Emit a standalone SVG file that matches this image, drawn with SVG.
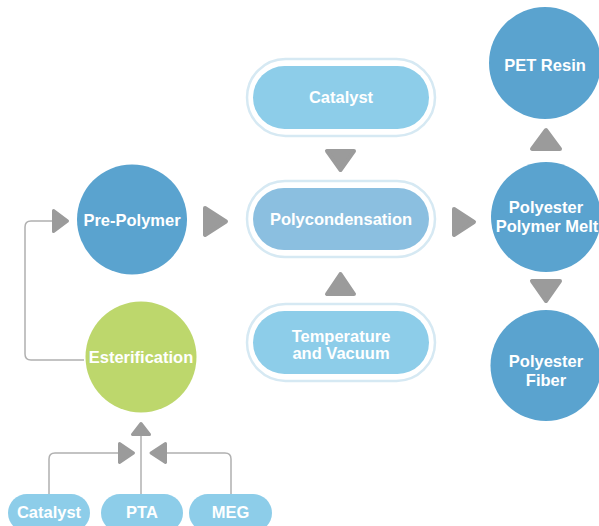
<svg xmlns="http://www.w3.org/2000/svg" width="599" height="526" viewBox="0 0 599 526">
  <style>
    .lbl { font-family: "Liberation Sans", Arial, sans-serif; font-weight: bold; font-size: 16.5px; fill: #ffffff; text-anchor: middle; }
    .dark { fill: #5aa3cf; }
    .green { fill: #bdd76c; }
    .pill { fill: #8dcde9; }
    .pill-main { fill: #8bbfe0; }
    .ring { fill: none; stroke: #d6e9f3; stroke-width: 2.5; }
    .tri { fill: #9b9b9b; stroke: #9b9b9b; stroke-width: 4; stroke-linejoin: round; }
    .tri-s { fill: #9b9b9b; stroke: #9b9b9b; stroke-width: 3; stroke-linejoin: round; }
    .wire { fill: none; stroke: #b0b0b0; stroke-width: 1.5; }
  </style>

  <!-- connectors -->
  <g id="connectors">
    <path class="wire" d="M84,360 H31 Q25,360 25,354 V227 Q25,221 31,221 H55"/>
    <polygon class="tri-s" points="53.5,210.5 67.5,221 53.5,231.5"/>

    <path class="wire" d="M49,494 V459 Q49,453 55,453 H121"/>
    <path class="wire" d="M141,494 V433"/>
    <path class="wire" d="M231,494 V459 Q231,453 225,453 H163"/>
    <polygon class="tri-s" points="119.5,443.5 133.5,453 119.5,462.5"/>
    <polygon class="tri-s" points="132.5,434.5 149.5,434.5 141,423.5"/>
    <polygon class="tri-s" points="165.5,443.5 151,453 165.5,462.5"/>

    <polygon class="tri" points="205,208 226,221.5 205,235"/>
    <polygon class="tri" points="327,151 354,151 340.5,170"/>
    <polygon class="tri" points="327,294 354,294 340.5,274"/>
    <polygon class="tri" points="454,209 474,222 454,235"/>
    <polygon class="tri" points="532,149 560,149 546,130"/>
    <polygon class="tri" points="532,281 560,281 546,301"/>
  </g>

  <g id="pre-polymer">
    <circle class="dark" cx="132" cy="219.5" r="55"/>
    <text class="lbl" x="132" y="225.5">Pre-Polymer</text>
  </g>

  <g id="esterification">
    <circle class="green" cx="141" cy="357" r="55.5"/>
    <text class="lbl" x="141" y="363">Esterification</text>
  </g>

  <g id="catalyst-top">
    <rect class="ring" x="247" y="59" width="188" height="77" rx="38.5"/>
    <rect class="pill" x="253" y="66" width="176" height="63" rx="31.5"/>
    <text class="lbl" x="341" y="103">Catalyst</text>
  </g>

  <g id="polycondensation">
    <rect class="ring" x="247" y="181" width="188" height="76" rx="38"/>
    <rect class="pill-main" x="253" y="188" width="176" height="62" rx="31"/>
    <text class="lbl" x="341" y="225">Polycondensation</text>
  </g>

  <g id="temperature-vacuum">
    <rect class="ring" x="247" y="304" width="188" height="77" rx="38.5"/>
    <rect class="pill" x="253" y="311" width="176" height="63" rx="31.5"/>
    <text class="lbl" x="341" y="342">Temperature</text>
    <text class="lbl" x="341" y="359">and Vacuum</text>
  </g>

  <g id="pet-resin">
    <circle class="dark" cx="545" cy="63" r="56"/>
    <text class="lbl" x="545" y="71">PET Resin</text>
  </g>

  <g id="polymer-melt">
    <circle class="dark" cx="546" cy="217" r="55"/>
    <text class="lbl" x="546" y="213">Polyester</text>
    <text class="lbl" x="547" y="232">Polymer Melt</text>
  </g>

  <g id="polyester-fiber">
    <circle class="dark" cx="546" cy="365.5" r="55.5"/>
    <text class="lbl" x="546" y="367">Polyester</text>
    <text class="lbl" x="546" y="386">Fiber</text>
  </g>

  <g id="catalyst-feed">
    <rect class="pill" x="8" y="494" width="82" height="38" rx="19"/>
    <text class="lbl" x="49" y="518">Catalyst</text>
  </g>

  <g id="pta-feed">
    <rect class="pill" x="101" y="494" width="82" height="38" rx="19"/>
    <text class="lbl" x="142" y="518">PTA</text>
  </g>

  <g id="meg-feed">
    <rect class="pill" x="189" y="494" width="83" height="38" rx="19"/>
    <text class="lbl" x="230.5" y="518">MEG</text>
  </g>
</svg>
